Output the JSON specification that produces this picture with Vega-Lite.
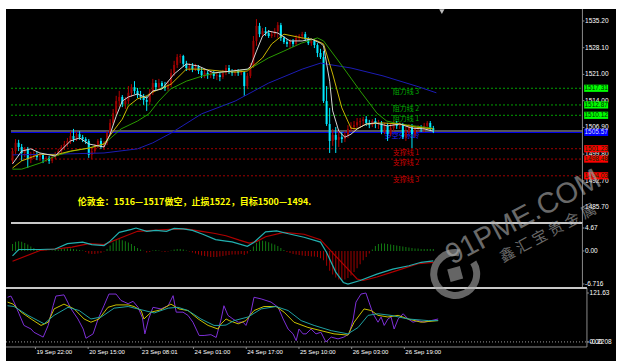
{
"$schema": "https://vega.github.io/schema/vega-lite/v6.json",
"background": "#ffffff",
"padding": {"left": 5, "top": 8, "right": 14, "bottom": 0},
"spacing": 0,
"bounds": "flush",
"resolve": {"scale": {"color": "independent"}},
"config": {"view": {"fill": "#000000", "stroke": null}},
"datasets": {
"candles": [
{"i":0,"o":1498.0,"h":1501.4,"l":1497.2,"c":1500.6},{"i":1,"o":1500.6,"h":1503.8,"l":1499.8,"c":1502.8},{"i":2,"o":1502.8,"h":1503.6,"l":1500.6,"c":1501.7},{"i":3,"o":1501.7,"h":1502.5,"l":1498.0,"c":1500.1},{"i":4,"o":1500.1,"h":1501.7,"l":1499.0,"c":1501.2},{"i":5,"o":1501.2,"h":1501.7,"l":1496.1,"c":1498.5},{"i":6,"o":1498.5,"h":1500.4,"l":1497.4,"c":1499.3},{"i":7,"o":1499.3,"h":1500.6,"l":1498.5,"c":1499.8},{"i":8,"o":1499.8,"h":1500.4,"l":1498.2,"c":1499.0},{"i":9,"o":1499.0,"h":1500.1,"l":1498.0,"c":1499.6},
{"i":10,"o":1499.6,"h":1500.1,"l":1497.4,"c":1498.5},{"i":11,"o":1498.5,"h":1499.3,"l":1497.7,"c":1498.8},{"i":12,"o":1498.8,"h":1499.3,"l":1497.2,"c":1498.0},{"i":13,"o":1498.0,"h":1499.6,"l":1497.4,"c":1499.0},{"i":14,"o":1499.0,"h":1500.4,"l":1498.5,"c":1499.8},{"i":15,"o":1499.8,"h":1501.2,"l":1499.3,"c":1500.6},{"i":16,"o":1500.6,"h":1502.2,"l":1500.1,"c":1501.7},{"i":17,"o":1501.7,"h":1503.3,"l":1500.9,"c":1502.5},{"i":18,"o":1502.5,"h":1504.1,"l":1501.7,"c":1503.3},{"i":19,"o":1503.3,"h":1505.9,"l":1502.5,"c":1504.6},
{"i":20,"o":1504.6,"h":1506.5,"l":1503.0,"c":1503.8},{"i":21,"o":1503.8,"h":1505.7,"l":1503.3,"c":1505.1},{"i":22,"o":1505.1,"h":1505.9,"l":1503.6,"c":1504.3},{"i":23,"o":1504.3,"h":1504.9,"l":1503.0,"c":1503.8},{"i":24,"o":1503.8,"h":1504.3,"l":1502.5,"c":1503.3},{"i":25,"o":1503.3,"h":1503.8,"l":1498.8,"c":1499.6},{"i":26,"o":1499.6,"h":1501.4,"l":1498.5,"c":1500.6},{"i":27,"o":1500.6,"h":1502.5,"l":1500.1,"c":1502.0},{"i":28,"o":1502.0,"h":1503.8,"l":1501.4,"c":1503.3},{"i":29,"o":1503.3,"h":1504.1,"l":1501.2,"c":1501.7},
{"i":30,"o":1501.7,"h":1503.3,"l":1500.9,"c":1502.8},{"i":31,"o":1502.8,"h":1505.9,"l":1502.2,"c":1505.4},{"i":32,"o":1505.4,"h":1509.1,"l":1504.9,"c":1508.1},{"i":33,"o":1508.1,"h":1511.8,"l":1507.5,"c":1510.7},{"i":34,"o":1510.7,"h":1515.3,"l":1509.9,"c":1513.9},{"i":35,"o":1513.9,"h":1516.6,"l":1512.3,"c":1515.0},{"i":36,"o":1515.0,"h":1515.5,"l":1512.3,"c":1513.1},{"i":37,"o":1513.1,"h":1515.0,"l":1511.8,"c":1513.9},{"i":38,"o":1513.9,"h":1517.9,"l":1513.1,"c":1516.1},{"i":39,"o":1516.1,"h":1518.4,"l":1515.0,"c":1517.6},
{"i":40,"o":1517.6,"h":1519.2,"l":1515.8,"c":1516.6},{"i":41,"o":1516.6,"h":1517.4,"l":1514.7,"c":1515.5},{"i":42,"o":1515.5,"h":1516.6,"l":1514.2,"c":1515.0},{"i":43,"o":1515.0,"h":1515.8,"l":1512.9,"c":1514.2},{"i":44,"o":1514.2,"h":1515.3,"l":1511.3,"c":1513.7},{"i":45,"o":1513.7,"h":1517.1,"l":1512.9,"c":1516.1},{"i":46,"o":1516.1,"h":1519.8,"l":1515.5,"c":1518.7},{"i":47,"o":1518.7,"h":1519.5,"l":1516.6,"c":1517.6},{"i":48,"o":1517.6,"h":1519.8,"l":1516.9,"c":1518.7},{"i":49,"o":1518.7,"h":1519.2,"l":1517.1,"c":1517.9},
{"i":50,"o":1517.9,"h":1519.0,"l":1516.6,"c":1517.4},{"i":51,"o":1517.4,"h":1519.2,"l":1516.6,"c":1518.2},{"i":52,"o":1518.2,"h":1522.4,"l":1517.6,"c":1521.4},{"i":53,"o":1521.4,"h":1524.6,"l":1520.6,"c":1523.5},{"i":54,"o":1523.5,"h":1526.4,"l":1522.7,"c":1525.6},{"i":55,"o":1525.6,"h":1526.4,"l":1524.0,"c":1525.9},{"i":56,"o":1525.9,"h":1526.2,"l":1523.0,"c":1523.8},{"i":57,"o":1523.8,"h":1524.6,"l":1521.9,"c":1522.7},{"i":58,"o":1522.7,"h":1524.0,"l":1521.9,"c":1523.2},{"i":59,"o":1523.2,"h":1524.0,"l":1521.6,"c":1522.4},
{"i":60,"o":1522.4,"h":1523.8,"l":1521.9,"c":1523.0},{"i":61,"o":1523.0,"h":1523.5,"l":1521.1,"c":1521.9},{"i":62,"o":1521.9,"h":1522.7,"l":1520.0,"c":1520.8},{"i":63,"o":1520.8,"h":1522.2,"l":1520.0,"c":1521.4},{"i":64,"o":1521.4,"h":1521.9,"l":1519.8,"c":1520.8},{"i":65,"o":1520.8,"h":1521.9,"l":1520.0,"c":1521.4},{"i":66,"o":1521.4,"h":1521.9,"l":1519.8,"c":1520.6},{"i":67,"o":1520.6,"h":1521.6,"l":1519.5,"c":1520.8},{"i":68,"o":1520.8,"h":1521.4,"l":1519.2,"c":1520.3},{"i":69,"o":1520.3,"h":1522.2,"l":1519.8,"c":1521.4},
{"i":70,"o":1521.4,"h":1523.5,"l":1520.8,"c":1522.7},{"i":71,"o":1522.7,"h":1523.5,"l":1521.1,"c":1521.6},{"i":72,"o":1521.6,"h":1522.4,"l":1520.6,"c":1521.4},{"i":73,"o":1521.4,"h":1522.4,"l":1520.6,"c":1521.9},{"i":74,"o":1521.9,"h":1522.4,"l":1520.6,"c":1521.4},{"i":75,"o":1521.4,"h":1522.2,"l":1520.8,"c":1521.6},{"i":76,"o":1521.6,"h":1521.9,"l":1515.3,"c":1517.9},{"i":77,"o":1517.9,"h":1521.4,"l":1517.1,"c":1520.6},{"i":78,"o":1520.6,"h":1524.0,"l":1520.0,"c":1523.2},{"i":79,"o":1523.2,"h":1531.2,"l":1522.7,"c":1529.9},
{"i":80,"o":1529.9,"h":1535.7,"l":1528.6,"c":1533.9},{"i":81,"o":1533.9,"h":1534.7,"l":1530.9,"c":1531.7},{"i":82,"o":1531.7,"h":1533.3,"l":1531.2,"c":1532.5},{"i":83,"o":1532.5,"h":1533.6,"l":1531.2,"c":1532.0},{"i":84,"o":1532.0,"h":1532.8,"l":1530.7,"c":1531.2},{"i":85,"o":1531.2,"h":1532.5,"l":1530.7,"c":1531.7},{"i":86,"o":1531.7,"h":1533.3,"l":1530.9,"c":1532.5},{"i":87,"o":1532.5,"h":1534.9,"l":1530.7,"c":1534.1},{"i":88,"o":1534.1,"h":1534.7,"l":1529.9,"c":1530.7},{"i":89,"o":1530.7,"h":1531.2,"l":1529.1,"c":1529.6},
{"i":90,"o":1529.6,"h":1530.4,"l":1528.3,"c":1529.1},{"i":91,"o":1529.1,"h":1530.4,"l":1528.0,"c":1529.9},{"i":92,"o":1529.9,"h":1530.4,"l":1528.3,"c":1529.1},{"i":93,"o":1529.1,"h":1531.5,"l":1528.6,"c":1530.7},{"i":94,"o":1530.7,"h":1531.7,"l":1529.9,"c":1531.2},{"i":95,"o":1531.2,"h":1532.3,"l":1530.4,"c":1531.7},{"i":96,"o":1531.7,"h":1532.3,"l":1529.9,"c":1530.4},{"i":97,"o":1530.4,"h":1530.9,"l":1528.8,"c":1529.3},{"i":98,"o":1529.3,"h":1530.4,"l":1528.6,"c":1529.9},{"i":99,"o":1529.9,"h":1530.4,"l":1528.0,"c":1528.8},
{"i":100,"o":1528.8,"h":1529.3,"l":1525.6,"c":1526.7},{"i":101,"o":1526.7,"h":1527.8,"l":1525.1,"c":1525.6},{"i":102,"o":1525.6,"h":1527.2,"l":1513.4,"c":1513.9},{"i":103,"o":1513.9,"h":1517.9,"l":1507.3,"c":1507.8},{"i":104,"o":1507.8,"h":1512.1,"l":1500.1,"c":1503.3},{"i":105,"o":1503.3,"h":1506.5,"l":1502.0,"c":1504.9},{"i":106,"o":1504.9,"h":1507.0,"l":1500.1,"c":1503.6},{"i":107,"o":1503.6,"h":1506.5,"l":1501.7,"c":1504.3},{"i":108,"o":1504.3,"h":1505.7,"l":1502.8,"c":1503.8},{"i":109,"o":1503.8,"h":1505.9,"l":1503.0,"c":1504.9},
{"i":110,"o":1504.9,"h":1507.5,"l":1504.1,"c":1506.5},{"i":111,"o":1506.5,"h":1508.3,"l":1505.7,"c":1507.0},{"i":112,"o":1507.0,"h":1508.6,"l":1505.9,"c":1507.5},{"i":113,"o":1507.5,"h":1509.4,"l":1506.5,"c":1508.3},{"i":114,"o":1508.3,"h":1509.4,"l":1507.0,"c":1508.6},{"i":115,"o":1508.6,"h":1509.7,"l":1507.3,"c":1509.1},{"i":116,"o":1509.1,"h":1509.9,"l":1507.3,"c":1508.1},{"i":117,"o":1508.1,"h":1508.9,"l":1506.7,"c":1507.5},{"i":118,"o":1507.5,"h":1509.1,"l":1507.0,"c":1508.6},{"i":119,"o":1508.6,"h":1509.4,"l":1506.7,"c":1507.8},
{"i":120,"o":1507.8,"h":1508.9,"l":1506.5,"c":1508.1},{"i":121,"o":1508.1,"h":1508.6,"l":1505.1,"c":1505.7},{"i":122,"o":1505.7,"h":1508.1,"l":1505.1,"c":1507.3},{"i":123,"o":1507.3,"h":1508.1,"l":1503.3,"c":1505.1},{"i":124,"o":1505.1,"h":1507.8,"l":1504.6,"c":1506.7},{"i":125,"o":1506.7,"h":1508.6,"l":1505.9,"c":1507.8},{"i":126,"o":1507.8,"h":1508.6,"l":1506.5,"c":1507.3},{"i":127,"o":1507.3,"h":1508.3,"l":1506.5,"c":1507.5},{"i":128,"o":1507.5,"h":1508.1,"l":1503.8,"c":1504.3},{"i":129,"o":1504.3,"h":1507.0,"l":1503.3,"c":1505.9},
{"i":130,"o":1505.9,"h":1507.8,"l":1505.1,"c":1507.0},{"i":131,"o":1507.0,"h":1507.8,"l":1501.4,"c":1505.1},{"i":132,"o":1505.1,"h":1507.3,"l":1504.3,"c":1506.5},{"i":133,"o":1506.5,"h":1507.5,"l":1505.7,"c":1507.0},{"i":134,"o":1507.0,"h":1507.5,"l":1505.7,"c":1506.5},{"i":135,"o":1506.5,"h":1508.1,"l":1505.7,"c":1507.3},{"i":136,"o":1507.3,"h":1508.6,"l":1506.2,"c":1508.1},{"i":137,"o":1508.1,"h":1508.6,"l":1505.9,"c":1506.7},{"i":138,"o":1506.7,"h":1507.3,"l":1505.4,"c":1506.2}
],
"ma": [
{"i":0,"s":"b","v":1499.6},{"i":15,"s":"b","v":1499.8},{"i":30,"s":"b","v":1500.1},{"i":41,"s":"b","v":1501.2},{"i":46,"s":"b","v":1502.8},{"i":52,"s":"b","v":1505.4},{"i":62,"s":"b","v":1510.5},{"i":73,"s":"b","v":1513.9},{"i":84,"s":"b","v":1518.7},{"i":95,"s":"b","v":1522.4},{"i":101,"s":"b","v":1524.0},{"i":111,"s":"b","v":1522.7},{"i":121.5,"s":"b","v":1520.6},{"i":132.4,"s":"b","v":1517.9},{"i":139,"s":"b","v":1516.1},
{"i":0,"s":"g","v":1495.8},{"i":3,"s":"g","v":1495.8},{"i":9,"s":"g","v":1497.4},{"i":14,"s":"g","v":1499.3},{"i":19.5,"s":"g","v":1500.6},{"i":25,"s":"g","v":1501.4},{"i":30,"s":"g","v":1502.5},{"i":35.6,"s":"g","v":1506.5},{"i":41,"s":"g","v":1508.6},{"i":44.7,"s":"g","v":1510.5},{"i":48,"s":"g","v":1513.9},{"i":51.8,"s":"g","v":1517.1},{"i":57,"s":"g","v":1519.2},{"i":62.4,"s":"g","v":1520.6},{"i":68,"s":"g","v":1521.6},{"i":73,"s":"g","v":1521.9},{"i":77.6,"s":"g","v":1522.4},{"i":84,"s":"g","v":1525.4},{"i":89,"s":"g","v":1527.2},{"i":94.7,"s":"g","v":1529.3},{"i":100,"s":"g","v":1530.7},{"i":102,"s":"g","v":1529.9},{"i":107.6,"s":"g","v":1523.8},{"i":114,"s":"g","v":1516.6},{"i":119.5,"s":"g","v":1510.7},{"i":122.7,"s":"g","v":1508.6},{"i":127,"s":"g","v":1507.8},{"i":137.6,"s":"g","v":1506.7},
{"i":0,"s":"y","v":1496.1},{"i":3,"s":"y","v":1498.0},{"i":9,"s":"y","v":1499.8},{"i":14,"s":"y","v":1499.6},{"i":19,"s":"y","v":1500.6},{"i":25,"s":"y","v":1501.4},{"i":30,"s":"y","v":1502.5},{"i":33,"s":"y","v":1505.9},{"i":36,"s":"y","v":1509.1},{"i":38,"s":"y","v":1512.6},{"i":41,"s":"y","v":1514.5},{"i":44,"s":"y","v":1515.3},{"i":46,"s":"y","v":1516.3},{"i":52,"s":"y","v":1518.4},{"i":57,"s":"y","v":1522.4},{"i":62,"s":"y","v":1522.4},{"i":68,"s":"y","v":1521.9},{"i":73,"s":"y","v":1521.6},{"i":77,"s":"y","v":1521.9},{"i":82,"s":"y","v":1525.4},{"i":85,"s":"y","v":1529.1},{"i":89,"s":"y","v":1531.7},{"i":95,"s":"y","v":1530.7},{"i":98,"s":"y","v":1530.4},{"i":100,"s":"y","v":1529.9},{"i":102,"s":"y","v":1529.1},{"i":105,"s":"y","v":1521.1},{"i":108,"s":"y","v":1512.1},{"i":111,"s":"y","v":1506.7},{"i":113,"s":"y","v":1506.5},{"i":116,"s":"y","v":1507.8},{"i":121,"s":"y","v":1508.1},{"i":127,"s":"y","v":1507.8},{"i":132,"s":"y","v":1507.0},{"i":138,"s":"y","v":1506.5},
{"i":0,"s":"f","v":1497.2},{"i":3,"s":"f","v":1500.6},{"i":6,"s":"f","v":1501.2},{"i":9,"s":"f","v":1500.1},{"i":14,"s":"f","v":1499.3},{"i":19,"s":"f","v":1503.3},{"i":22,"s":"f","v":1504.1},{"i":25,"s":"f","v":1502.5},{"i":28,"s":"f","v":1502.0},{"i":30,"s":"f","v":1501.7},{"i":32,"s":"f","v":1505.1},{"i":34,"s":"f","v":1509.9},{"i":36,"s":"f","v":1513.9},{"i":38,"s":"f","v":1515.0},{"i":41,"s":"f","v":1515.8},{"i":44,"s":"f","v":1514.7},{"i":46,"s":"f","v":1516.6},{"i":49,"s":"f","v":1517.1},{"i":53,"s":"f","v":1521.1},{"i":57,"s":"f","v":1523.8},{"i":61,"s":"f","v":1523.2},{"i":66,"s":"f","v":1521.4},{"i":72,"s":"f","v":1521.9},{"i":77,"s":"f","v":1522.4},{"i":78,"s":"f","v":1523.0},{"i":80,"s":"f","v":1527.2},{"i":82,"s":"f","v":1531.2},{"i":84,"s":"f","v":1532.5},{"i":87,"s":"f","v":1532.0},{"i":91,"s":"f","v":1529.9},{"i":95,"s":"f","v":1529.9},{"i":98,"s":"f","v":1530.4},{"i":101,"s":"f","v":1529.3},{"i":102,"s":"f","v":1528.6},{"i":104,"s":"f","v":1519.2},{"i":105,"s":"f","v":1511.3},{"i":107,"s":"f","v":1505.9},{"i":109,"s":"f","v":1504.3},{"i":111,"s":"f","v":1505.1},{"i":113,"s":"f","v":1506.5},{"i":116,"s":"f","v":1507.8},{"i":119,"s":"f","v":1508.1},{"i":123,"s":"f","v":1507.3},{"i":127,"s":"f","v":1507.8},{"i":131,"s":"f","v":1506.7},{"i":135,"s":"f","v":1506.5},{"i":138,"s":"f","v":1505.9}
],
"levels": [
{"name":"阻力线 3","p":1517.31,"k":"res"},{"name":"阻力线 2","p":1512.87,"k":"res"},{"name":"阻力线 1","p":1510.12,"k":"res"},{"name":"多空分水岭","p":1505.57,"k":"pivot"},{"name":"支撑线 1","p":1501.23,"k":"sup"},{"name":"支撑线 2","p":1498.48,"k":"sup"},{"name":"支撑线 3","p":1494.03,"k":"sup"},{"name":"","p":1505.95,"k":"bid"}
],
"ptick": [{"v":1535.2},{"v":1528.1},{"v":1521.0},{"v":1514.0},{"v":1506.9},{"v":1499.8},{"v":1492.7},{"v":1485.7}],
"mtick": [{"v":4.67,"t":"4.67"},{"v":0,"t":"0.00"},{"v":-6.716,"t":"-6.716"}],
"ktick": [{"v":121.63,"t":"121.63"},{"v":-0.2208,"t":"-0.2208"},{"v":0,"t":"0.00"}],
"xtick": [{"i":9,"t":"19 Sep 22:00"},{"i":26,"t":"20 Sep 15:00"},{"i":43,"t":"23 Sep 08:01"},{"i":60,"t":"24 Sep 01:00"},{"i":77,"t":"24 Sep 17:00"},{"i":94,"t":"25 Sep 10:00"},{"i":111,"t":"26 Sep 03:00"},{"i":128,"t":"26 Sep 19:00"}],
"hist": [
{"i":0,"h":1.4},{"i":1,"h":1.9},{"i":2,"h":2.0},{"i":3,"h":1.9},{"i":4,"h":1.6},{"i":5,"h":1.3},{"i":6,"h":0.9},{"i":7,"h":0.6},{"i":8,"h":0.4},{"i":9,"h":0.2},{"i":10,"h":0.1},{"i":11,"h":0.1},{"i":12,"h":0.05},{"i":13,"h":0.1},{"i":14,"h":0.2},{"i":15,"h":0.3},{"i":16,"h":0.4},{"i":17,"h":0.5},{"i":18,"h":0.5},{"i":19,"h":0.5},{"i":20,"h":0.4},{"i":21,"h":0.3},{"i":22,"h":0.2},{"i":23,"h":0.1},{"i":24,"h":-0.2},{"i":25,"h":-0.5},{"i":26,"h":-0.6},{"i":27,"h":-0.6},{"i":28,"h":-0.5},{"i":29,"h":-0.4},{"i":30,"h":-0.1},{"i":31,"h":0.4},{"i":32,"h":1.1},{"i":33,"h":1.7},{"i":34,"h":2.2},{"i":35,"h":2.4},{"i":36,"h":2.2},{"i":37,"h":2.0},{"i":38,"h":1.7},{"i":39,"h":1.4},{"i":40,"h":1.0},{"i":41,"h":0.6},{"i":42,"h":0.3},{"i":43,"h":0.05},{"i":44,"h":-0.3},{"i":45,"h":-0.2},{"i":46,"h":0.1},{"i":47,"h":0.2},{"i":48,"h":0.1},{"i":49,"h":-0.1},{"i":50,"h":-0.2},{"i":51,"h":-0.1},{"i":52,"h":0.1},{"i":53,"h":0.3},{"i":54,"h":0.4},{"i":55,"h":0.4},{"i":56,"h":0.3},{"i":57,"h":0.1},{"i":58,"h":-0.1},{"i":59,"h":-0.3},{"i":60,"h":-0.5},{"i":61,"h":-0.7},{"i":62,"h":-0.9},{"i":63,"h":-1.0},{"i":64,"h":-1.1},{"i":65,"h":-1.2},{"i":66,"h":-1.2},{"i":67,"h":-1.2},{"i":68,"h":-1.1},{"i":69,"h":-1.0},{"i":70,"h":-0.9},{"i":71,"h":-0.8},{"i":72,"h":-0.7},{"i":73,"h":-0.7},{"i":74,"h":-0.7},{"i":75,"h":-0.6},{"i":76,"h":-0.8},{"i":77,"h":-0.5},{"i":78,"h":0.2},{"i":79,"h":0.9},{"i":80,"h":1.6},{"i":81,"h":2.0},{"i":82,"h":2.1},{"i":83,"h":2.0},{"i":84,"h":1.8},{"i":85,"h":1.5},{"i":86,"h":1.3},{"i":87,"h":1.0},{"i":88,"h":0.6},{"i":89,"h":0.2},{"i":90,"h":-0.2},{"i":91,"h":-0.4},{"i":92,"h":-0.6},{"i":93,"h":-0.7},{"i":94,"h":-0.8},{"i":95,"h":-0.9},{"i":96,"h":-1.0},{"i":97,"h":-1.0},{"i":98,"h":-1.1},{"i":99,"h":-1.1},{"i":100,"h":-1.2},{"i":101,"h":-1.5},{"i":102,"h":-1.9},{"i":103,"h":-3.0},{"i":104,"h":-4.0},{"i":105,"h":-4.8},{"i":106,"h":-5.4},{"i":107,"h":-5.8},{"i":108,"h":-5.9},{"i":109,"h":-5.8},{"i":110,"h":-5.5},{"i":111,"h":-5.0},{"i":112,"h":-4.3},{"i":113,"h":-3.5},{"i":114,"h":-2.7},{"i":115,"h":-1.9},{"i":116,"h":-1.2},{"i":117,"h":-0.5},{"i":118,"h":0.3},{"i":119,"h":1.0},{"i":120,"h":1.4},{"i":121,"h":1.5},{"i":122,"h":1.5},{"i":123,"h":1.4},{"i":124,"h":1.3},{"i":125,"h":1.2},{"i":126,"h":1.1},{"i":127,"h":1.0},{"i":128,"h":0.9},{"i":129,"h":0.8},{"i":130,"h":0.7},{"i":131,"h":0.6},{"i":132,"h":0.5},{"i":133,"h":0.5},{"i":134,"h":0.4},{"i":135,"h":0.4},{"i":136,"h":0.4},{"i":137,"h":0.4},{"i":138,"h":0.4}
],
"macd": [
{"i":0,"s":"dea","v":-2.1},{"i":9,"s":"dea","v":0.1},{"i":14,"s":"dea","v":0.4},{"i":19.5,"s":"dea","v":0.8},{"i":25,"s":"dea","v":1.5},{"i":30,"s":"dea","v":1.3},{"i":35.6,"s":"dea","v":2.7},{"i":41,"s":"dea","v":4.0},{"i":46,"s":"dea","v":4.2},{"i":52,"s":"dea","v":4.4},{"i":57,"s":"dea","v":4.5},{"i":62,"s":"dea","v":4.0},{"i":66,"s":"dea","v":3.6},{"i":70,"s":"dea","v":3.1},{"i":74.4,"s":"dea","v":2.2},{"i":77.6,"s":"dea","v":1.6},{"i":80,"s":"dea","v":1.9},{"i":83,"s":"dea","v":2.9},{"i":89,"s":"dea","v":3.8},{"i":95.6,"s":"dea","v":3.4},{"i":101,"s":"dea","v":2.3},{"i":105,"s":"dea","v":-0.4},{"i":110,"s":"dea","v":-3.7},{"i":113,"s":"dea","v":-5.7},{"i":115,"s":"dea","v":-6.0},{"i":119.5,"s":"dea","v":-5.3},{"i":126,"s":"dea","v":-4.0},{"i":133,"s":"dea","v":-2.6},{"i":138,"s":"dea","v":-2.3},
{"i":0,"s":"dif","v":-1.0},{"i":2,"s":"dif","v":0.3},{"i":9,"s":"dif","v":0.3},{"i":14,"s":"dif","v":0.4},{"i":18,"s":"dif","v":1.5},{"i":23,"s":"dif","v":1.8},{"i":26,"s":"dif","v":1.3},{"i":30,"s":"dif","v":1.1},{"i":32,"s":"dif","v":2.0},{"i":35,"s":"dif","v":3.8},{"i":39,"s":"dif","v":4.4},{"i":40.5,"s":"dif","v":4.67},{"i":44,"s":"dif","v":4.0},{"i":47,"s":"dif","v":4.2},{"i":50.5,"s":"dif","v":4.0},{"i":53,"s":"dif","v":4.6},{"i":56,"s":"dif","v":4.5},{"i":59,"s":"dif","v":4.2},{"i":62.4,"s":"dif","v":3.4},{"i":66.6,"s":"dif","v":2.3},{"i":70,"s":"dif","v":2.0},{"i":72,"s":"dif","v":1.85},{"i":77,"s":"dif","v":0.95},{"i":79,"s":"dif","v":1.65},{"i":83,"s":"dif","v":3.9},{"i":86.6,"s":"dif","v":4.1},{"i":90.5,"s":"dif","v":3.5},{"i":95.6,"s":"dif","v":2.8},{"i":101,"s":"dif","v":1.8},{"i":103,"s":"dif","v":-0.3},{"i":106,"s":"dif","v":-4.3},{"i":108.5,"s":"dif","v":-6.4},{"i":110,"s":"dif","v":-6.716},{"i":114,"s":"dif","v":-6.0},{"i":119.5,"s":"dif","v":-4.7},{"i":124.7,"s":"dif","v":-3.7},{"i":130,"s":"dif","v":-3.0},{"i":134,"s":"dif","v":-2.3},{"i":138,"s":"dif","v":-2.0}
],
"kdj": [
{"i":0,"s":"J","v":111},{"i":1.1,"s":"J","v":114},{"i":2.1,"s":"J","v":99},{"i":3.7,"s":"J","v":70},{"i":5.3,"s":"J","v":41},{"i":7.6,"s":"J","v":32},{"i":8.5,"s":"J","v":24},{"i":11.5,"s":"J","v":12},{"i":13.1,"s":"J","v":41},{"i":14.7,"s":"J","v":90},{"i":15.6,"s":"J","v":114},{"i":18.2,"s":"J","v":117},{"i":20.5,"s":"J","v":82},{"i":22.7,"s":"J","v":57},{"i":24.4,"s":"J","v":32},{"i":25.3,"s":"J","v":9},{"i":27.6,"s":"J","v":20},{"i":29.2,"s":"J","v":57},{"i":31.1,"s":"J","v":90},{"i":32.7,"s":"J","v":119},{"i":35,"s":"J","v":119},{"i":36.6,"s":"J","v":103},{"i":38.9,"s":"J","v":95},{"i":40.5,"s":"J","v":101},{"i":42.1,"s":"J","v":86},{"i":43.5,"s":"J","v":60},{"i":44.3,"s":"J","v":20},{"i":45.5,"s":"J","v":57},{"i":46.9,"s":"J","v":86},{"i":49.5,"s":"J","v":82},{"i":51.8,"s":"J","v":90},{"i":53.4,"s":"J","v":115},{"i":54.4,"s":"J","v":74},{"i":56.6,"s":"J","v":74},{"i":58.2,"s":"J","v":66},{"i":59.8,"s":"J","v":49},{"i":61.8,"s":"J","v":16},{"i":63.4,"s":"J","v":16},{"i":65.6,"s":"J","v":18},{"i":67.3,"s":"J","v":11},{"i":68.9,"s":"J","v":57},{"i":69.8,"s":"J","v":90},{"i":71.1,"s":"J","v":66},{"i":72.7,"s":"J","v":57},{"i":74.4,"s":"J","v":49},{"i":76,"s":"J","v":49},{"i":76.9,"s":"J","v":41},{"i":78.5,"s":"J","v":74},{"i":79.5,"s":"J","v":111},{"i":81.8,"s":"J","v":107},{"i":85,"s":"J","v":99},{"i":87.3,"s":"J","v":86},{"i":88.9,"s":"J","v":57},{"i":90.5,"s":"J","v":32},{"i":92.1,"s":"J","v":20},{"i":93.1,"s":"J","v":3},{"i":94,"s":"J","v":32},{"i":95.3,"s":"J","v":20},{"i":96.3,"s":"J","v":20},{"i":97.9,"s":"J","v":32},{"i":99.5,"s":"J","v":20},{"i":101.1,"s":"J","v":24},{"i":102.7,"s":"J","v":-0.2208},{"i":104.4,"s":"J","v":12},{"i":106.6,"s":"J","v":7.5},{"i":108.5,"s":"J","v":12},{"i":110.2,"s":"J","v":20},{"i":111.5,"s":"J","v":57},{"i":112.4,"s":"J","v":99},{"i":114,"s":"J","v":119},{"i":115.6,"s":"J","v":121.63},{"i":116.6,"s":"J","v":99},{"i":117.9,"s":"J","v":70},{"i":119.5,"s":"J","v":49},{"i":120.5,"s":"J","v":62},{"i":121.5,"s":"J","v":41},{"i":122.7,"s":"J","v":57},{"i":123.7,"s":"J","v":62},{"i":124.7,"s":"J","v":32},{"i":126,"s":"J","v":57},{"i":127.6,"s":"J","v":70},{"i":129.2,"s":"J","v":57},{"i":130.8,"s":"J","v":49},{"i":132.4,"s":"J","v":53},{"i":134.4,"s":"J","v":49},{"i":136.6,"s":"J","v":53},{"i":138.9,"s":"J","v":57},
{"i":0,"s":"K","v":99},{"i":1.8,"s":"K","v":94},{"i":4.4,"s":"K","v":74},{"i":7.6,"s":"K","v":57},{"i":10.8,"s":"K","v":41},{"i":13.1,"s":"K","v":49},{"i":15,"s":"K","v":82},{"i":18.2,"s":"K","v":94},{"i":21.5,"s":"K","v":82},{"i":24.7,"s":"K","v":57},{"i":26.9,"s":"K","v":49},{"i":29.5,"s":"K","v":57},{"i":32.4,"s":"K","v":86},{"i":35,"s":"K","v":92},{"i":38.9,"s":"K","v":92},{"i":40.8,"s":"K","v":88},{"i":43.1,"s":"K","v":78},{"i":44,"s":"K","v":57},{"i":46.3,"s":"K","v":74},{"i":49.5,"s":"K","v":80},{"i":52.7,"s":"K","v":94},{"i":55.3,"s":"K","v":82},{"i":58.2,"s":"K","v":78},{"i":61.5,"s":"K","v":57},{"i":64.7,"s":"K","v":41},{"i":67.9,"s":"K","v":32},{"i":68.9,"s":"K","v":45},{"i":70.5,"s":"K","v":57},{"i":71.5,"s":"K","v":53},{"i":74.4,"s":"K","v":45},{"i":76.9,"s":"K","v":53},{"i":79.5,"s":"K","v":78},{"i":82.7,"s":"K","v":88},{"i":86.6,"s":"K","v":88},{"i":89.2,"s":"K","v":74},{"i":92.4,"s":"K","v":49},{"i":96.9,"s":"K","v":36},{"i":101.1,"s":"K","v":28},{"i":105.3,"s":"K","v":20},{"i":109.8,"s":"K","v":17},{"i":111.8,"s":"K","v":49},{"i":115,"s":"K","v":82},{"i":117.3,"s":"K","v":78},{"i":119.5,"s":"K","v":66},{"i":122.7,"s":"K","v":62},{"i":126,"s":"K","v":66},{"i":129.2,"s":"K","v":57},{"i":133.4,"s":"K","v":49},{"i":138.9,"s":"K","v":53},
{"i":0,"s":"D","v":90},{"i":2.1,"s":"D","v":88},{"i":6.6,"s":"D","v":66},{"i":11.8,"s":"D","v":45},{"i":15,"s":"D","v":66},{"i":19.5,"s":"D","v":86},{"i":23.1,"s":"D","v":78},{"i":26.9,"s":"D","v":57},{"i":30.2,"s":"D","v":62},{"i":34.4,"s":"D","v":84},{"i":38.9,"s":"D","v":88},{"i":43.1,"s":"D","v":80},{"i":47.3,"s":"D","v":72},{"i":51.8,"s":"D","v":84},{"i":55,"s":"D","v":86},{"i":58.2,"s":"D","v":78},{"i":62.4,"s":"D","v":57},{"i":66.6,"s":"D","v":41},{"i":68.9,"s":"D","v":41},{"i":70.5,"s":"D","v":42},{"i":73.1,"s":"D","v":53},{"i":77.6,"s":"D","v":62},{"i":81.8,"s":"D","v":82},{"i":86.6,"s":"D","v":88},{"i":90.5,"s":"D","v":78},{"i":94.7,"s":"D","v":53},{"i":98.9,"s":"D","v":41},{"i":104.4,"s":"D","v":28},{"i":109.8,"s":"D","v":20},{"i":113.1,"s":"D","v":36},{"i":116.3,"s":"D","v":66},{"i":119.5,"s":"D","v":70},{"i":123.7,"s":"D","v":66},{"i":129.2,"s":"D","v":57},{"i":135.7,"s":"D","v":53},{"i":138.9,"s":"D","v":53}
]
},
"vconcat": [
{
"width": 610, "height": 214,
"layer": [
{"data": {"name": "levels"}, "transform": [{"filter": "datum.k == 'res' || datum.k == 'sup'"}],
 "mark": {"type": "rule", "strokeDash": [2, 2], "strokeWidth": 1},
 "encoding": {
  "x": {"datum": -0.5, "type": "quantitative", "scale": {"domain": [-0.5, 196.27], "nice": false, "zero": false}, "axis": null},
  "x2": {"datum": 186.9},
  "y": {"field": "p", "type": "quantitative", "scale": {"domain": [1481.48, 1538.39], "nice": false, "zero": false}, "axis": null},
  "color": {"condition": {"test": "datum.k == 'res'", "value": "#00a000"}, "value": "#a00000"}}},
{"data": {"name": "levels"}, "transform": [{"filter": "datum.k == 'pivot' || datum.k == 'bid'"}],
 "mark": {"type": "rule", "strokeWidth": 1},
 "encoding": {
  "x": {"datum": -0.5, "type": "quantitative", "scale": {"domain": [-0.5, 196.27], "nice": false, "zero": false}, "axis": null},
  "x2": {"datum": 186.9},
  "y": {"field": "p", "type": "quantitative", "scale": {"domain": [1481.48, 1538.39], "nice": false, "zero": false}, "axis": null},
  "color": {"condition": {"test": "datum.k == 'pivot'", "value": "#0000ff"}, "value": "#a8a8a8"}}},
{"data": {"name": "ptick"},
 "mark": {"type": "rule", "strokeWidth": 1, "color": "#8a8a8a"},
 "encoding": {
  "x": {"datum": 186.9, "type": "quantitative", "scale": {"domain": [-0.5, 196.27], "nice": false, "zero": false}, "axis": null},
  "x2": {"datum": 187.55},
  "y": {"field": "v", "type": "quantitative", "scale": {"domain": [1481.48, 1538.39], "nice": false, "zero": false}, "axis": null}}},
{"data": {"name": "ptick"},
 "mark": {"type": "text", "align": "left", "baseline": "middle", "fontSize": 6.5, "font": "Liberation Sans", "color": "#ffffff"},
 "encoding": {
  "x": {"datum": 187.75, "type": "quantitative", "scale": {"domain": [-0.5, 196.27], "nice": false, "zero": false}, "axis": null},
  "y": {"field": "v", "type": "quantitative", "scale": {"domain": [1481.48, 1538.39], "nice": false, "zero": false}, "axis": null},
  "text": {"field": "v", "format": ".2f"}}},
{"data": {"values": [{"edge": "price axis"}]},
 "mark": {"type": "rule", "strokeWidth": 1, "color": "#8a8a8a"},
 "encoding": {
  "x": {"datum": 186.9, "type": "quantitative", "scale": {"domain": [-0.5, 196.27], "nice": false, "zero": false}, "axis": null},
  "y": {"datum": 1481.48, "type": "quantitative", "scale": {"domain": [1481.48, 1538.39], "nice": false, "zero": false}, "axis": null},
  "y2": {"datum": 1538.39}}},
{"data": {"name": "levels"}, "transform": [{"filter": "datum.k == 'res' || datum.k == 'sup'"}],
 "mark": {"type": "text", "align": "left", "baseline": "middle", "dy": 4, "fontSize": 7, "font": "Noto Sans CJK SC"},
 "encoding": {
  "x": {"datum": 124.7, "type": "quantitative", "scale": {"domain": [-0.5, 196.27], "nice": false, "zero": false}, "axis": null},
  "y": {"field": "p", "type": "quantitative", "scale": {"domain": [1481.48, 1538.39], "nice": false, "zero": false}, "axis": null},
  "text": {"field": "name"},
  "color": {"condition": {"test": "datum.k == 'res'", "value": "#00a800"}, "value": "#c80000"}}},
{"data": {"name": "levels"}, "transform": [{"filter": "datum.k == 'pivot'"}],
 "mark": {"type": "text", "align": "left", "baseline": "middle", "dy": 4, "fontSize": 7, "font": "Noto Sans CJK SC", "color": "#2020ff"},
 "encoding": {
  "x": {"datum": 122.0, "type": "quantitative", "scale": {"domain": [-0.5, 196.27], "nice": false, "zero": false}, "axis": null},
  "y": {"field": "p", "type": "quantitative", "scale": {"domain": [1481.48, 1538.39], "nice": false, "zero": false}, "axis": null},
  "text": {"field": "name"}}},
{"data": {"name": "candles"},
 "mark": {"type": "rule", "strokeWidth": 1},
 "encoding": {
  "x": {"field": "i", "type": "quantitative", "scale": {"domain": [-0.5, 196.27], "nice": false, "zero": false}, "axis": null},
  "y": {"field": "l", "type": "quantitative", "scale": {"domain": [1481.48, 1538.39], "nice": false, "zero": false}, "axis": null},
  "y2": {"field": "h"},
  "color": {"condition": {"test": "datum.c >= datum.o", "value": "#b40000"}, "value": "#00e8ff"}}},
{"data": {"name": "candles"},
 "mark": {"type": "bar", "size": 2},
 "encoding": {
  "x": {"field": "i", "type": "quantitative", "scale": {"domain": [-0.5, 196.27], "nice": false, "zero": false}, "axis": null},
  "y": {"field": "o", "type": "quantitative", "scale": {"domain": [1481.48, 1538.39], "nice": false, "zero": false}, "axis": null},
  "y2": {"field": "c"},
  "color": {"condition": {"test": "datum.c >= datum.o", "value": "#9a0000"}, "value": "#00e8ff"}}},
{"data": {"name": "ma"},
 "mark": {"type": "line", "strokeWidth": 1},
 "encoding": {
  "x": {"field": "i", "type": "quantitative", "scale": {"domain": [-0.5, 196.27], "nice": false, "zero": false}, "axis": null},
  "y": {"field": "v", "type": "quantitative", "scale": {"domain": [1481.48, 1538.39], "nice": false, "zero": false}, "axis": null},
  "color": {"field": "s", "type": "nominal", "scale": {"domain": ["b", "g", "y", "f"], "range": ["#1c1cb4", "#2a9a00", "#c8b400", "#d4d4d4"]}, "legend": null}}},
{"data": {"name": "levels"}, "transform": [{"filter": "datum.k != 'bid'"}],
 "mark": {"type": "point", "shape": "M-1,-0.3L1,-0.3L1,0.3L-1,0.3Z", "filled": true, "size": 576, "opacity": 1, "strokeWidth": 0},
 "encoding": {
  "x": {"datum": 191.4, "type": "quantitative", "scale": {"domain": [-0.5, 196.27], "nice": false, "zero": false}, "axis": null},
  "y": {"field": "p", "type": "quantitative", "scale": {"domain": [1481.48, 1538.39], "nice": false, "zero": false}, "axis": null},
  "color": {"condition": [{"test": "datum.k == 'res'", "value": "#00ff00"}, {"test": "datum.k == 'sup'", "value": "#ff0000"}], "value": "#0000ff"}}},
{"data": {"name": "levels"}, "transform": [{"filter": "datum.k != 'bid'"}],
 "mark": {"type": "text", "align": "center", "baseline": "middle", "fontSize": 6.5, "font": "Liberation Sans"},
 "encoding": {
  "x": {"datum": 191.4, "type": "quantitative", "scale": {"domain": [-0.5, 196.27], "nice": false, "zero": false}, "axis": null},
  "y": {"field": "p", "type": "quantitative", "scale": {"domain": [1481.48, 1538.39], "nice": false, "zero": false}, "axis": null},
  "text": {"field": "p", "format": ".2f"},
  "color": {"condition": {"test": "datum.k == 'pivot'", "value": "#d0d8ff"}, "value": "#003000"}}},
{"data": {"values": [{"t": "伦敦金：1516—1517做空，止损1522，目标1500—1494."}]},
 "mark": {"type": "text", "align": "left", "baseline": "middle", "font": "Noto Sans CJK SC", "fontWeight": "bold", "fontSize": 9, "color": "#ffff00"},
 "encoding": {
  "x": {"datum": 21.4, "type": "quantitative", "scale": {"domain": [-0.5, 196.27], "nice": false, "zero": false}, "axis": null},
  "y": {"datum": 1487.06, "type": "quantitative", "scale": {"domain": [1481.48, 1538.39], "nice": false, "zero": false}, "axis": null},
  "text": {"field": "t"}}},
{"data": {"values": [{"m": "shift"}]},
 "mark": {"type": "point", "shape": "triangle-down", "filled": true, "size": 28, "color": "#bdbdbd", "opacity": 1},
 "encoding": {
  "x": {"datum": 140.8, "type": "quantitative", "scale": {"domain": [-0.5, 196.27], "nice": false, "zero": false}, "axis": null},
  "y": {"datum": 1537.7, "type": "quantitative", "scale": {"domain": [1481.48, 1538.39], "nice": false, "zero": false}, "axis": null}}}
]
},
{
"width": 610, "height": 65,
"layer": [
{"data": {"name": "hist"},
 "mark": {"type": "bar", "size": 1},
 "encoding": {
  "x": {"field": "i", "type": "quantitative", "scale": {"domain": [-0.5, 196.27], "nice": false, "zero": false}, "axis": null},
  "y": {"field": "h", "type": "quantitative", "scale": {"domain": [-7.53, 5.69], "nice": false, "zero": false}, "axis": null},
  "y2": {"datum": 0},
  "color": {"condition": {"test": "datum.h >= 0", "value": "#127a12"}, "value": "#a00000"}}},
{"data": {"name": "macd"},
 "mark": {"type": "line", "strokeWidth": 1.2},
 "encoding": {
  "x": {"field": "i", "type": "quantitative", "scale": {"domain": [-0.5, 196.27], "nice": false, "zero": false}, "axis": null},
  "y": {"field": "v", "type": "quantitative", "scale": {"domain": [-7.53, 5.69], "nice": false, "zero": false}, "axis": null},
  "color": {"field": "s", "type": "nominal", "scale": {"domain": ["dea", "dif"], "range": ["#b00000", "#22b0b0"]}, "legend": null}}},
{"data": {"values": [{"edge": "top"}]},
 "mark": {"type": "rule", "strokeWidth": 2, "color": "#c8c8c8"},
 "encoding": {
  "x": {"datum": -0.5, "type": "quantitative", "scale": {"domain": [-0.5, 196.27], "nice": false, "zero": false}, "axis": null},
  "x2": {"datum": 186.9},
  "y": {"datum": 5.69, "type": "quantitative", "scale": {"domain": [-7.53, 5.69], "nice": false, "zero": false}, "axis": null}}},
{"data": {"values": [{"edge": "macd axis"}]},
 "mark": {"type": "rule", "strokeWidth": 1, "color": "#8a8a8a"},
 "encoding": {
  "x": {"datum": 186.9, "type": "quantitative", "scale": {"domain": [-0.5, 196.27], "nice": false, "zero": false}, "axis": null},
  "y": {"datum": -7.53, "type": "quantitative", "scale": {"domain": [-7.53, 5.69], "nice": false, "zero": false}, "axis": null},
  "y2": {"datum": 5.69}}},
{"data": {"name": "mtick"},
 "mark": {"type": "rule", "strokeWidth": 1, "color": "#8a8a8a"},
 "encoding": {
  "x": {"datum": 186.9, "type": "quantitative", "scale": {"domain": [-0.5, 196.27], "nice": false, "zero": false}, "axis": null},
  "x2": {"datum": 187.55},
  "y": {"field": "v", "type": "quantitative", "scale": {"domain": [-7.53, 5.69], "nice": false, "zero": false}, "axis": null}}},
{"data": {"name": "mtick"},
 "mark": {"type": "text", "align": "left", "baseline": "middle", "fontSize": 6.5, "font": "Liberation Sans", "color": "#ffffff"},
 "encoding": {
  "x": {"datum": 187.75, "type": "quantitative", "scale": {"domain": [-0.5, 196.27], "nice": false, "zero": false}, "axis": null},
  "y": {"field": "v", "type": "quantitative", "scale": {"domain": [-7.53, 5.69], "nice": false, "zero": false}, "axis": null},
  "text": {"field": "t"}}}
]
},
{
"width": 610, "height": 74,
"layer": [
{"data": {"values": [{"lvl": 0}]},
 "mark": {"type": "rule", "strokeDash": [1, 2], "strokeWidth": 1, "color": "#9a9a9a"},
 "encoding": {
  "x": {"datum": -0.5, "type": "quantitative", "scale": {"domain": [-0.5, 196.27], "nice": false, "zero": false}, "axis": null},
  "x2": {"datum": 186.9},
  "y": {"field": "lvl", "type": "quantitative", "scale": {"domain": [-49.97, 134.07], "nice": false, "zero": false}, "axis": null}}},
{"data": {"values": [{"edge": "time axis"}]},
 "mark": {"type": "rule", "strokeWidth": 1, "color": "#8a8a8a"},
 "encoding": {
  "x": {"datum": -0.5, "type": "quantitative", "scale": {"domain": [-0.5, 196.27], "nice": false, "zero": false}, "axis": null},
  "x2": {"datum": 186.9},
  "y": {"datum": -12.66, "type": "quantitative", "scale": {"domain": [-49.97, 134.07], "nice": false, "zero": false}, "axis": null}}},
{"data": {"values": [{"edge": "kdj axis"}]},
 "mark": {"type": "rule", "strokeWidth": 1, "color": "#8a8a8a"},
 "encoding": {
  "x": {"datum": 186.9, "type": "quantitative", "scale": {"domain": [-0.5, 196.27], "nice": false, "zero": false}, "axis": null},
  "y": {"datum": -12.66, "type": "quantitative", "scale": {"domain": [-49.97, 134.07], "nice": false, "zero": false}, "axis": null},
  "y2": {"datum": 134.07}}},
{"data": {"name": "ktick"},
 "mark": {"type": "rule", "strokeWidth": 1, "color": "#8a8a8a"},
 "encoding": {
  "x": {"datum": 186.9, "type": "quantitative", "scale": {"domain": [-0.5, 196.27], "nice": false, "zero": false}, "axis": null},
  "x2": {"datum": 187.55},
  "y": {"field": "v", "type": "quantitative", "scale": {"domain": [-49.97, 134.07], "nice": false, "zero": false}, "axis": null}}},
{"data": {"name": "ktick"},
 "mark": {"type": "text", "align": "left", "baseline": "middle", "fontSize": 6.5, "font": "Liberation Sans", "color": "#ffffff"},
 "encoding": {
  "x": {"datum": 187.75, "type": "quantitative", "scale": {"domain": [-0.5, 196.27], "nice": false, "zero": false}, "axis": null},
  "y": {"field": "v", "type": "quantitative", "scale": {"domain": [-49.97, 134.07], "nice": false, "zero": false}, "axis": null},
  "text": {"field": "t"}}},
{"data": {"name": "xtick"},
 "mark": {"type": "rule", "strokeWidth": 1, "color": "#8a8a8a"},
 "encoding": {
  "x": {"field": "i", "type": "quantitative", "scale": {"domain": [-0.5, 196.27], "nice": false, "zero": false}, "axis": null},
  "y": {"datum": -12.66, "type": "quantitative", "scale": {"domain": [-49.97, 134.07], "nice": false, "zero": false}, "axis": null},
  "y2": {"datum": -17.6}}},
{"data": {"name": "xtick"},
 "mark": {"type": "text", "align": "left", "baseline": "middle", "dx": 1, "fontSize": 6, "font": "Liberation Sans", "color": "#ffffff"},
 "encoding": {
  "x": {"field": "i", "type": "quantitative", "scale": {"domain": [-0.5, 196.27], "nice": false, "zero": false}, "axis": null},
  "y": {"datum": -24.6, "type": "quantitative", "scale": {"domain": [-49.97, 134.07], "nice": false, "zero": false}, "axis": null},
  "text": {"field": "t"}}},
{"data": {"name": "kdj"},
 "mark": {"type": "line", "strokeWidth": 1},
 "encoding": {
  "x": {"field": "i", "type": "quantitative", "scale": {"domain": [-0.5, 196.27], "nice": false, "zero": false}, "axis": null},
  "y": {"field": "v", "type": "quantitative", "scale": {"domain": [-49.97, 134.07], "nice": false, "zero": false}, "axis": null},
  "color": {"field": "s", "type": "nominal", "scale": {"domain": ["J", "K", "D"], "range": ["#7d2fd6", "#c8c000", "#1fa0a0"]}, "legend": null}}},
{"data": {"values": [{"edge": "top"}]},
 "mark": {"type": "rule", "strokeWidth": 2, "color": "#c8c8c8"},
 "encoding": {
  "x": {"datum": -0.5, "type": "quantitative", "scale": {"domain": [-0.5, 196.27], "nice": false, "zero": false}, "axis": null},
  "x2": {"datum": 186.9},
  "y": {"datum": 134.07, "type": "quantitative", "scale": {"domain": [-49.97, 134.07], "nice": false, "zero": false}, "axis": null}}},
{"data": {"values": [{"w": "ring"}]},
 "mark": {"type": "arc", "radius": 25, "radius2": 18, "theta": 1.0, "theta2": 6.48, "color": "#a8a8a8", "opacity": 0.6},
 "encoding": {
  "x": {"datum": 144.4, "type": "quantitative", "scale": {"domain": [-0.5, 196.27], "nice": false, "zero": false}, "axis": null},
  "y": {"datum": 168.9, "type": "quantitative", "scale": {"domain": [-49.97, 134.07], "nice": false, "zero": false}, "axis": null}}},
{"data": {"values": [{"w": "square"}]},
 "mark": {"type": "point", "shape": "square", "filled": true, "size": 169, "angle": -15, "color": "#a8a8a8", "opacity": 0.6},
 "encoding": {
  "x": {"datum": 144.4, "type": "quantitative", "scale": {"domain": [-0.5, 196.27], "nice": false, "zero": false}, "axis": null},
  "y": {"datum": 168.9, "type": "quantitative", "scale": {"domain": [-49.97, 134.07], "nice": false, "zero": false}, "axis": null}}},
{"data": {"values": [{"t": "91PME.COM"}]},
 "mark": {"type": "text", "align": "center", "baseline": "middle", "angle": -28, "font": "Liberation Sans", "fontWeight": "normal", "fontSize": 29, "color": "#b0b0b0", "opacity": 0.6},
 "encoding": {
  "x": {"datum": 166.3, "type": "quantitative", "scale": {"domain": [-0.5, 196.27], "nice": false, "zero": false}, "axis": null},
  "y": {"datum": 310.7, "type": "quantitative", "scale": {"domain": [-49.97, 134.07], "nice": false, "zero": false}, "axis": null},
  "text": {"field": "t"}}},
{"data": {"values": [{"t": "鑫  汇  宝  贵  金  属"}]},
 "mark": {"type": "text", "align": "center", "baseline": "middle", "angle": -28, "font": "Noto Sans CJK SC", "fontWeight": "normal", "fontSize": 15, "color": "#b0b0b0", "opacity": 0.6},
 "encoding": {
  "x": {"datum": 174.3, "type": "quantitative", "scale": {"domain": [-0.5, 196.27], "nice": false, "zero": false}, "axis": null},
  "y": {"datum": 270.9, "type": "quantitative", "scale": {"domain": [-49.97, 134.07], "nice": false, "zero": false}, "axis": null},
  "text": {"field": "t"}}}
]
}
]
}
